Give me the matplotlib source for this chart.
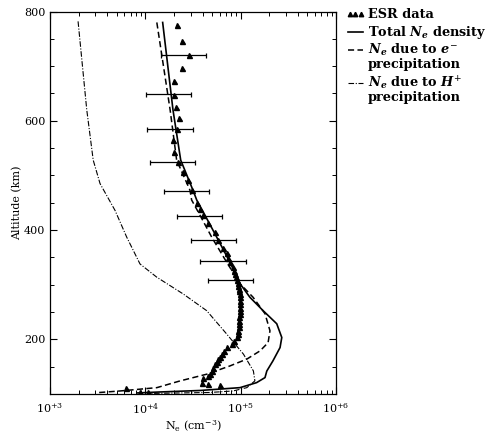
import numpy as np
import matplotlib
matplotlib.use("Agg")
import matplotlib.pyplot as plt
from matplotlib.lines import Line2D
from matplotlib.ticker import FixedLocator, LogLocator, NullFormatter

plt.rcParams['font.family'] = 'DejaVu Serif'
plt.rcParams['mathtext.fontset'] = 'custom'
plt.rcParams['mathtext.rm'] = 'DejaVu Serif'
plt.rcParams['mathtext.it'] = 'DejaVu Serif:italic:bold'
plt.rcParams['mathtext.bf'] = 'DejaVu Serif:bold'

# total Ne density
total_alt = [780, 620, 528, 473, 455, 427, 387, 341, 302, 277, 252.5, 228.6, 203.4,
             185, 160.6, 142, 130, 120.8, 111.6, 106.4, 103.7, 101.9]
total_ne = [1.52e4, 1.95e4, 2.35e4, 3.16e4, 3.46e4, 4.23e4, 5.61e4, 7.73e4, 9.84e4,
            1.25e5, 1.72e5, 2.39e5, 2.70e5, 2.59e5, 2.18e5, 1.88e5, 1.80e5, 1.47e5,
            9.84e4, 3.75e4, 1.43e4, 8.2e3]

# Ne due to electron precipitation
elec_alt = [780, 620, 528, 473, 455, 427, 387, 341, 302, 277, 247, 215.7, 194, 179,
            163.8, 151.4, 136.2, 123.9, 111.6, 105.5, 102.4]
elec_ne = [1.32e4, 1.82e4, 2.13e4, 2.94e4, 3.06e4, 3.75e4, 4.97e4, 7.14e4, 9.84e4,
           1.35e5, 1.80e5, 2.03e5, 1.94e5, 1.60e5, 1.16e5, 7.73e4, 4.40e4, 2.31e4,
           1.32e4, 5.42e3, 3.11e3]

# Ne due to proton precipitation
prot_alt = [782, 620, 528, 485, 436, 387, 338, 313.7, 283, 252.5, 209.7, 172.9, 142.2,
            124, 111.6, 105.5, 102.8, 101]
prot_ne = [1.97e3, 2.43e3, 2.84e3, 3.35e3, 4.81e3, 6.38e3, 8.79e3, 1.32e4, 2.50e4,
           4.40e4, 7.14e4, 1.07e5, 1.36e5, 1.41e5, 1.16e5, 8.31e4, 4.77e4, 1.12e4]

# ESR data
esr_alt = [774.8, 746.7, 721, 696.6, 672, 647.5, 626, 604.7, 584.5, 564.8, 543.3, 525,
           506.6, 491.3, 472.9, 450, 438, 427, 412.3, 396.3, 381.1, 366.4, 357.2, 348,
           341.2, 332, 326, 319.9, 314, 308.9, 303, 298.4, 293, 289.2, 283, 276.9, 271,
           264.8, 258, 252.5, 246, 240.2, 234, 228.1, 222, 215.7, 209, 203.4, 197,
           191.3, 185.1, 179, 172.9, 168, 163.8, 159, 154.6, 148, 142.2, 137, 133.1,
           130, 120.8, 118.9, 116, 110.5, 103.7, 103.7]
esr_ne = [2.13e4, 2.44e4, 2.87e4, 2.41e4, 2.0e4, 2.01e4, 2.08e4, 2.27e4, 2.13e4, 1.97e4,
          2.01e4, 2.22e4, 2.50e4, 2.78e4, 3.06e4, 3.45e4, 3.75e4, 4.06e4, 4.54e4, 5.38e4,
          5.79e4, 6.53e4, 7.14e4, 7.45e4, 7.73e4, 8.25e4, 8.5e4, 8.72e4, 9.0e4, 9.22e4,
          9.35e4, 9.44e4, 9.5e4, 9.61e4, 9.75e4, 9.84e4, 9.84e4, 9.84e4, 9.84e4, 9.84e4,
          9.75e4, 9.68e4, 9.65e4, 9.61e4, 9.5e4, 9.44e4, 9.3e4, 9.08e4, 8.6e4, 8.05e4,
          7.14e4, 6.7e4, 6.33e4, 6.1e4, 5.83e4, 5.6e4, 5.38e4, 5.15e4, 4.97e4, 4.75e4,
          4.57e4, 4.06e4, 3.9e4, 4.57e4, 6.07e4, 6.27e3, 8.79e3, 1.07e4]

# ESR error bars (low / high ends)
err_alt = [721, 649, 585, 524, 471, 425, 382, 343, 309]
err_lo = [1.45e4, 1.01e4, 1.05e4, 1.12e4, 1.57e4, 2.13e4, 2.98e4, 3.77e4, 4.52e4]
err_hi = [4.33e4, 3.02e4, 3.19e4, 3.33e4, 4.70e4, 6.41e4, 8.93e4, 1.13e5, 1.36e5]

fig = plt.figure(figsize=(5.02, 4.33), dpi=100)
ax = fig.add_axes([0.0996, 0.0901, 0.5697, 0.8833])

err_lo = np.array(err_lo)
err_hi = np.array(err_hi)
err_c = np.sqrt(err_lo * err_hi)
ax.errorbar(err_c, err_alt, xerr=[err_c - err_lo, err_hi - err_c], fmt='none',
            ecolor='black', elinewidth=0.9, capsize=1.8, capthick=0.9)

esr_style = dict(linestyle='none', marker='^', color='black', markersize=3.6)
tot_style = dict(color='black', linewidth=1.2)
el_style = dict(color='black', linewidth=1.1, linestyle=(0, (4, 2.2)))
pr_style = dict(color='black', linewidth=0.8, linestyle=(0, (5, 1.5, 1, 1.5)))

ax.plot(esr_ne, esr_alt, **esr_style)
ax.plot(total_ne, total_alt, **tot_style)
ax.plot(elec_ne, elec_alt, **el_style)
ax.plot(prot_ne, prot_alt, **pr_style)

ax.set_xscale('log')
ax.set_xlim(1e3, 1e6)
ax.set_ylim(100, 800)
ax.set_xticks([1e3, 1e4, 1e5, 1e6])
ax.set_xticklabels([r'10$^{+3}$', r'10$^{+4}$', r'10$^{+5}$', r'10$^{+6}$'])
ax.xaxis.set_minor_locator(LogLocator(base=10, subs=np.arange(2, 10)))
ax.xaxis.set_minor_formatter(NullFormatter())
ax.set_yticks([200, 400, 600, 800])
ax.yaxis.set_minor_locator(FixedLocator(np.arange(100, 800, 50)))
ax.tick_params(which='both', direction='in', top=True, right=True, labelsize=8)
ax.tick_params(which='major', length=5, width=0.8)
ax.tick_params(which='minor', length=3, width=0.7)
ax.tick_params(axis='x', pad=5)
for s in ax.spines.values():
    s.set_linewidth(0.9)

ax.set_xlabel(r'N$_{\rm e}$ (cm$^{-3}$)', fontsize=8, labelpad=2)
ax.set_ylabel('Altitude (km)', fontsize=8, labelpad=1)

# legend drawn beside the axes, handle aligned with the first text line
leg_rows = [
    (esr_style, ['ESR data']),
    (tot_style, [r'Total $N_e$ density']),
    (el_style, ['$N_e$ due to $e^{-}$', 'precipitation']),
    (pr_style, ['$N_e$ due to $H^{+}$', 'precipitation']),
]
y = 0.967
hx0, hx1, tx = 0.693, 0.723, 0.733
for style, lines in leg_rows:
    if style.get('marker'):
        xs = np.linspace(hx0 + 0.004, hx1 - 0.004, 3)
        fig.add_artist(Line2D(xs, [y] * 3, transform=fig.transFigure,
                              **dict(style, markersize=3.2)))
    else:
        fig.add_artist(Line2D([hx0, hx1], [y, y], transform=fig.transFigure, **style))
    for i, t in enumerate(lines):
        fig.text(tx, y - i * 0.034, t, fontsize=9.3, fontweight='bold', va='center')
    y -= 0.034 * (len(lines) - 1) + 0.0415

fig.savefig('out.png', dpi=100)
